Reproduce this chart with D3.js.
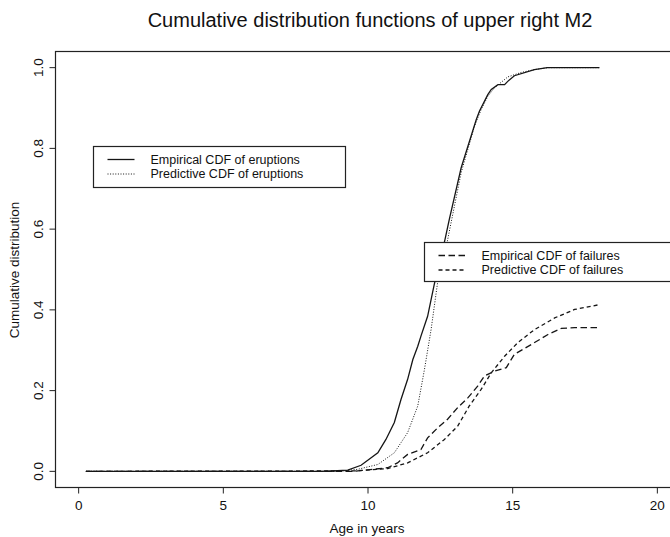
<!DOCTYPE html>
<html>
<head>
<meta charset="utf-8">
<script src="https://cdn.jsdelivr.net/npm/d3@7"></script>
<style>
    body { margin: 0; background: #fff; }
    svg { display: block; }
    text { font-family: "Liberation Sans", Arial, Helvetica, sans-serif; fill: #111; }
</style>
</head>
<body>
<div class="chart"></div>
<script>
// values (age in years, cumulative probability)
var eruptEmpAge = [0.25, 8.4, 9.3, 9.76, 10.34, 10.62, 10.91, 11.14, 11.37, 11.55, 11.72, 11.83, 12.06, 12.29, 12.66, 12.81, 13.22, 13.74, 13.85, 14.14, 14.26, 14.49, 14.72, 14.83, 15.06, 15.75, 16.2, 18];
var eruptEmpVal = [0, 0, 0.003, 0.015, 0.046, 0.079, 0.121, 0.178, 0.228, 0.277, 0.31, 0.335, 0.384, 0.463, 0.574, 0.624, 0.752, 0.871, 0.892, 0.933, 0.946, 0.958, 0.958, 0.966, 0.98, 0.995, 1, 1];

var eruptPredAge = [0.25, 9.0, 9.64, 10.34, 10.91, 11.37, 11.72, 11.95, 12.18, 12.41, 12.7, 13.22, 13.68, 13.91, 14.14, 14.37, 14.83, 15.29, 15.75, 16.2, 18];
var eruptPredVal = [0, 0, 0.005, 0.017, 0.046, 0.096, 0.162, 0.252, 0.351, 0.47, 0.555, 0.74, 0.855, 0.896, 0.929, 0.95, 0.977, 0.988, 0.995, 1, 1];

var failEmpAge = [0.25, 9.5, 10.68, 11.02, 11.37, 11.83, 12.06, 12.41, 12.75, 13.1, 13.45, 13.79, 14.02, 14.37, 14.78, 15.06, 15.64, 16.22, 16.68, 17.14, 18];
var failEmpVal = [0, 0, 0.009, 0.021, 0.042, 0.054, 0.083, 0.108, 0.129, 0.158, 0.182, 0.211, 0.236, 0.248, 0.257, 0.29, 0.314, 0.339, 0.354, 0.356, 0.356];

var failPredAge = [0.25, 9.5, 10.68, 11.37, 12.06, 12.64, 13.1, 13.5, 13.91, 14.26, 14.72, 15.18, 15.75, 16.45, 17.14, 18];
var failPredVal = [0, 0.001, 0.007, 0.021, 0.046, 0.079, 0.112, 0.162, 0.203, 0.244, 0.285, 0.319, 0.351, 0.38, 0.401, 0.413];

var xTicks = [0, 5, 10, 15, 20];
var yTicks = [0, 0.2, 0.4, 0.6, 0.8, 1.0];

var legendTop = ["Empirical CDF of eruptions", "Predictive CDF of eruptions"];
var legendBottom = ["Empirical CDF of failures", "Predictive CDF of failures"];

var width = 670, height = 537;

var x = d3.scaleLinear().domain([-0.8, 20.8]).range([55.5, 680.5]);
var y = d3.scaleLinear().domain([-0.04, 1.04]).range([487.5, 51.5]);

var svg = d3.select(".chart").append("svg")
    .attr("width", width)
    .attr("height", height);

var toPoints = function(ages, vals) {
    return ages.map(function(a, i) { return [a, vals[i]]; });
}

var series = [
    { pts: toPoints(eruptEmpAge, eruptEmpVal), dash: null, w: 1.3 },
    { pts: toPoints(eruptPredAge, eruptPredVal), dash: "1,1.6", w: 1 },
    { pts: toPoints(failEmpAge, failEmpVal), dash: "6.5,3.5", w: 1.3 },
    { pts: toPoints(failPredAge, failPredVal), dash: "4,3", w: 1.3 }
];

var line = d3.line()
    .x(function(d) { return x(d[0]); })
    .y(function(d) { return y(d[1]); });

series.forEach(function(s) {
    svg.append("path")
        .attr("d", line(s.pts))
        .attr("fill", "none")
        .attr("stroke", "#151515")
        .attr("stroke-width", s.w)
        .attr("stroke-dasharray", s.dash);
});

// plot frame
svg.append("rect")
    .attr("x", x.range()[0])
    .attr("y", y.range()[1])
    .attr("width", x.range()[1] - x.range()[0])
    .attr("height", y.range()[0] - y.range()[1])
    .attr("fill", "none")
    .attr("stroke", "#222")
    .attr("stroke-width", 1.2);

// x axis
var xAxis = svg.append("g").attr("transform", "translate(0," + y.range()[0] + ")");
xAxis.selectAll("line").data(xTicks).enter().append("line")
    .attr("x1", function(d) { return x(d); })
    .attr("x2", function(d) { return x(d); })
    .attr("y1", 0).attr("y2", 6)
    .attr("stroke", "#222");
xAxis.selectAll("text").data(xTicks).enter().append("text")
    .attr("x", function(d) { return x(d); })
    .attr("y", 22.5)
    .attr("text-anchor", "middle")
    .style("font-size", "13.5px")
    .text(function(d) { return d; });

// y axis
var yAxis = svg.append("g").attr("transform", "translate(" + x.range()[0] + ",0)");
yAxis.selectAll("line").data(yTicks).enter().append("line")
    .attr("y1", function(d) { return y(d); })
    .attr("y2", function(d) { return y(d); })
    .attr("x1", 0).attr("x2", -6)
    .attr("stroke", "#222");
yAxis.selectAll("text").data(yTicks).enter().append("text")
    .attr("transform", function(d) { return "translate(-13," + y(d) + ") rotate(-90)"; })
    .attr("text-anchor", "middle")
    .style("font-size", "13.5px")
    .text(function(d) { return d3.format(".1f")(d); });

svg.append("text")
    .attr("x", 367)
    .attr("y", 533)
    .attr("text-anchor", "middle")
    .style("font-size", "13.5px")
    .text("Age in years");

svg.append("text")
    .attr("transform", "translate(19,270) rotate(-90)")
    .attr("text-anchor", "middle")
    .style("font-size", "13.5px")
    .text("Cumulative distribution");

svg.append("text")
    .attr("x", 370)
    .attr("y", 27)
    .attr("text-anchor", "middle")
    .style("font-size", "20px")
    .text("Cumulative distribution functions of upper right M2");

// legends
var drawLegend = function(left, top, w, h, labels, styles) {
    var g = svg.append("g").attr("transform", "translate(" + left + "," + top + ")");
    g.append("rect")
        .attr("width", w).attr("height", h)
        .attr("fill", "#fff")
        .attr("stroke", "#222")
        .attr("stroke-width", 1.2);
    labels.forEach(function(lab, i) {
        var rowY = 13 + i * 14.5;
        g.append("line")
            .attr("x1", 14).attr("x2", 41)
            .attr("y1", rowY).attr("y2", rowY)
            .attr("stroke", "#151515")
            .attr("stroke-width", styles[i].w)
            .attr("stroke-dasharray", styles[i].dash);
        g.append("text")
            .attr("x", 57)
            .attr("y", rowY + 4.3)
            .style("font-size", "12.5px")
            .text(lab);
    });
}

drawLegend(93.5, 146.5, 252, 41, legendTop, [series[0], series[1]]);
drawLegend(424.5, 242.5, 260, 39, legendBottom, [series[2], series[3]]);
</script>
</body>
</html>
